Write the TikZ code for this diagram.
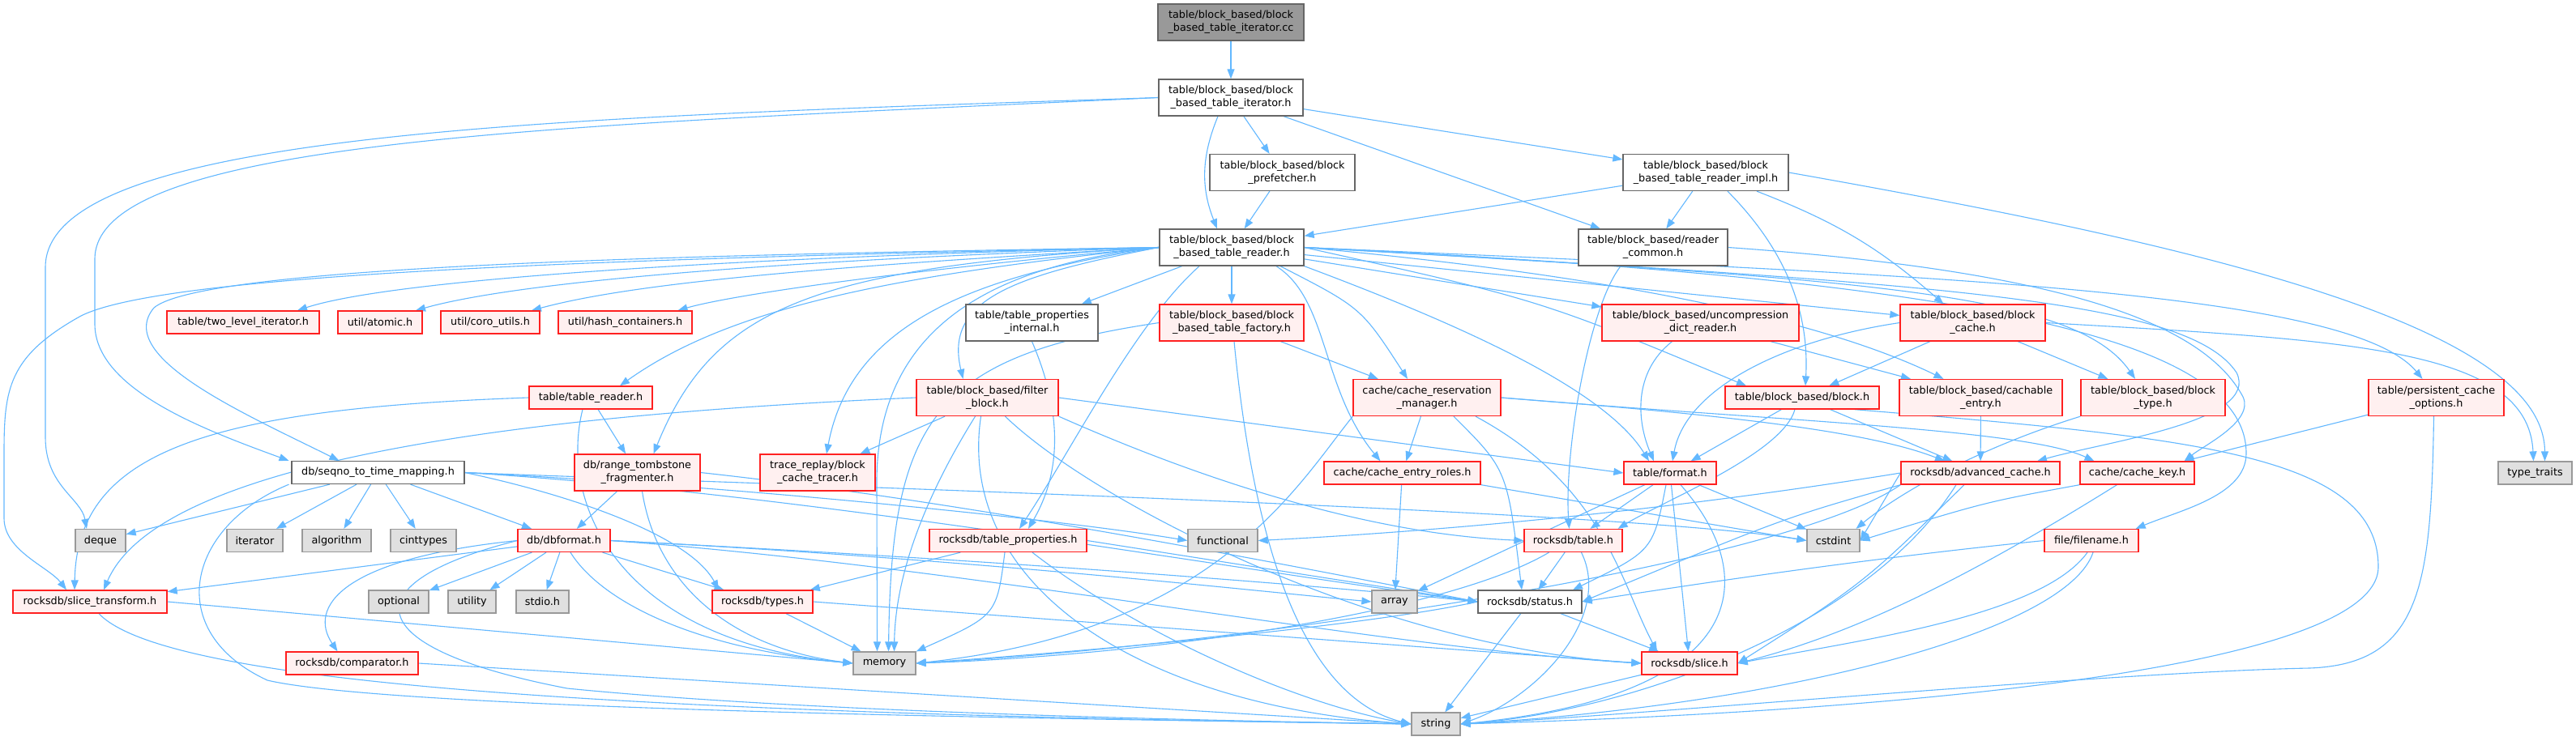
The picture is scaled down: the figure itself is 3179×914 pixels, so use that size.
\documentclass[tikz,border=0pt]{standalone}
\usepackage{fontspec}
\setmainfont{DejaVu Sans}
\usetikzlibrary{arrows.meta,backgrounds}
\definecolor{edgec}{HTML}{63B8FF}
\definecolor{redf}{HTML}{FFF0F0}
\definecolor{redb}{HTML}{FF2020}
\definecolor{grayb}{HTML}{999999}
\definecolor{grayf}{HTML}{E0E0E0}
\definecolor{wb}{HTML}{666666}
\definecolor{topf}{HTML}{999999}
\newcommand\mknode[7]{\node[#6, minimum width=#4pt, minimum height=#5pt] (#1) at (#2,#3) {#7};}
\tikzset{
  base/.style={draw, line width=1.3pt, align=center, inner sep=0pt, font=\fontsize{12.8}{16}\selectfont},
  rn/.style={base, draw=redb, fill=redf},
  wn/.style={base, draw=wb, fill=white},
  gn/.style={base, draw=grayb, fill=grayf},
  topn/.style={base, draw=wb, fill=topf},
  ed/.style={draw=edgec, line width=1.1pt, -{Triangle[length=12pt,width=9pt]}}
}
\begin{document}
\begin{tikzpicture}[x=1pt,y=-1pt]
\useasboundingbox (0,0) rectangle (3179,914);
\mknode{A}{1519}{27.5}{180}{45}{topn}{table/block\_based/block\\\_based\_table\_iterator.cc}
\mknode{B}{1519}{120.5}{178}{45}{wn}{table/block\_based/block\\\_based\_table\_iterator.h}
\mknode{C}{1582.5}{213}{179}{45}{wn}{table/block\_based/block\\\_prefetcher.h}
\mknode{D}{2105}{213}{204}{45}{wn}{table/block\_based/block\\\_based\_table\_reader\_impl.h}
\mknode{E}{1520}{305.5}{178}{45}{wn}{table/block\_based/block\\\_based\_table\_reader.h}
\mknode{F}{2040}{305.5}{184}{45}{wn}{table/block\_based/reader\\\_common.h}
\mknode{G}{300}{398}{188}{28}{rn}{table/two\_level\_iterator.h}
\mknode{H}{469}{398}{104}{28}{rn}{util/atomic.h}
\mknode{I}{605}{398}{122}{28}{rn}{util/coro\_utils.h}
\mknode{J}{771.5}{398}{165}{28}{rn}{util/hash\_containers.h}
\mknode{L}{1273.5}{398.5}{163}{45}{wn}{table/table\_properties\\\_internal.h}
\mknode{M}{1520}{398.5}{178}{45}{rn}{table/block\_based/block\\\_based\_table\_factory.h}
\mknode{N}{2098.5}{398.5}{243}{45}{rn}{table/block\_based/uncompression\\\_dict\_reader.h}
\mknode{O}{2434.5}{398.5}{179}{45}{rn}{table/block\_based/block\\\_cache.h}
\mknode{K}{729}{491}{152}{28}{rn}{table/table\_reader.h}
\mknode{R}{1218.5}{491}{175}{45}{rn}{table/block\_based/filter\\\_block.h}
\mknode{S}{1761}{491}{182}{45}{rn}{cache/cache\_reservation\\\_manager.h}
\mknode{T}{2224}{491}{190}{28}{rn}{table/block\_based/block.h}
\mknode{U}{2444.5}{491}{201}{45}{rn}{table/block\_based/cachable\\\_entry.h}
\mknode{V}{2657}{491}{178}{45}{rn}{table/block\_based/block\\\_type.h}
\mknode{P}{3006.5}{491}{167}{45}{rn}{table/persistent\_cache\\\_options.h}
\mknode{W}{466.5}{583.5}{213}{28}{wn}{db/seqno\_to\_time\_mapping.h}
\mknode{X}{786.5}{583.5}{155}{45}{rn}{db/range\_tombstone\\\_fragmenter.h}
\mknode{Y}{1009}{583.5}{142}{45}{rn}{trace\_replay/block\\\_cache\_tracer.h}
\mknode{Z}{1730.5}{584}{193}{28}{rn}{cache/cache\_entry\_roles.h}
\mknode{fmt}{2061}{584}{114}{28}{rn}{table/format.h}
\mknode{adv}{2444}{584}{196}{28}{rn}{rocksdb/advanced\_cache.h}
\mknode{ckey}{2637.5}{584}{141}{28}{rn}{cache/cache\_key.h}
\mknode{Q}{3128.5}{584}{91}{28}{gn}{type\_traits}
\mknode{deque}{124}{667.5}{62}{28}{gn}{deque}
\mknode{iter}{314.5}{667.5}{69}{28}{gn}{iterator}
\mknode{algo}{415.5}{667.5}{85}{28}{gn}{algorithm}
\mknode{cint}{522.5}{667.5}{81}{28}{gn}{cinttypes}
\mknode{dbf}{696}{667.5}{114}{28}{rn}{db/dbformat.h}
\mknode{tprops}{1244}{667.5}{194}{28}{rn}{rocksdb/table\_properties.h}
\mknode{func}{1509}{667.5}{86}{28}{gn}{functional}
\mknode{rtable}{1941.5}{667.5}{121}{28}{rn}{rocksdb/table.h}
\mknode{cstdint}{2262.5}{667.5}{65}{28}{gn}{cstdint}
\mknode{fname}{2581}{667.5}{116}{28}{rn}{file/filename.h}
\mknode{slicet}{111}{743}{190}{28}{rn}{rocksdb/slice\_transform.h}
\mknode{opt}{492}{743}{74}{28}{gn}{optional}
\mknode{util}{582.5}{743}{59}{28}{gn}{utility}
\mknode{stdio}{669.5}{743}{65}{28}{gn}{stdio.h}
\mknode{types}{941}{743}{124}{28}{rn}{rocksdb/types.h}
\mknode{array}{1721}{743}{56}{28}{gn}{array}
\mknode{status}{1888}{743}{128}{28}{wn}{rocksdb/status.h}
\mknode{comp}{434.5}{819}{163}{28}{rn}{rocksdb/comparator.h}
\mknode{memory}{1091.5}{819}{77}{28}{gn}{memory}
\mknode{slice}{2085}{819}{118}{28}{rn}{rocksdb/slice.h}
\mknode{string}{1772}{894}{60}{28}{gn}{string}
\begin{pgfonlayer}{background}
\fill[white] (0,0) rectangle (3179,914);
% top part
\draw[ed] (A) -- (B);
\draw[ed] (B) -- (C);
\draw[ed] ([xshift=-16]B.south) to[bend right=22] ([xshift=-18]E.north);
\draw[ed] (C) -- (E);
\draw[ed] (B) -- (D);
\draw[ed] (B) -- (F);
\draw[ed] (B.west) .. controls (700,145) and (56,160) .. (56,330) -- (56,540) .. controls (56,600) and (100,615) .. ([xshift=-17]deque.north);
\draw[ed] (B.west) .. controls (700,155) and (117,170) .. (117,320) -- (117,400) .. controls (117,480) and (250,530) .. ([xshift=-110]W.north);
\draw[ed] (D) -- (E);
\draw[ed] (D) -- (F);
\draw[ed] ([xshift=27]D.south) .. controls (2215,320) and (2232,400) .. ([xshift=4]T.north);
\draw[ed] ([xshift=63]D.south) to[bend left=10] ([xshift=-36]O.north);
\draw[ed] (D.east) .. controls (2700,300) and (3140,400) .. ([xshift=12]Q.north);
% reader_common
\draw[ed] ([xshift=-40]F.south) .. controls (1960,380) and (1930,560) .. ([xshift=-5]rtable.north);
\draw[ed] (F.east) .. controls (2550,335) and (2720,400) .. (2768,490) .. controls (2782,520) and (2720,550) .. ([xshift=58]ckey.north);
% reader.h
\draw[ed] (E.west) .. controls (1000,315) and (500,340) .. ([xshift=67]G.north);
\draw[ed] (E.west) .. controls (1000,320) and (650,345) .. ([xshift=44]H.north);
\draw[ed] (E.west) .. controls (1000,330) and (780,350) .. ([xshift=51]I.north);
\draw[ed] (E.west) .. controls (1100,335) and (900,365) .. ([xshift=65]J.north);
\draw[ed] (E.west) .. controls (1100,340) and (900,380) .. ([xshift=36]K.north);
\draw[ed] (E) -- (L);
\draw[ed] (E) -- (M);
\draw[ed] (E) -- (N);
\draw[ed] (E) -- (O);
\draw[ed] (E.east) .. controls (2100,350) and (2300,420) .. ([xshift=-46]U.north);
\draw[ed] (E.east) .. controls (2300,345) and (2560,360) .. ([xshift=-22]V.north);
\draw[ed] (E.east) .. controls (2400,340) and (2900,360) .. ([xshift=-17]P.north);
\draw[ed] (E.east) .. controls (1900,370) .. ([xshift=-69]T.north);
\draw[ed] (E.east) .. controls (2400,350) and (2700,370) .. (2760,460) .. controls (2790,520) and (2600,545) .. ([xshift=70]adv.north);
\draw[ed] (E.east) .. controls (2450,345) and (2772,420) .. (2772,560) .. controls (2772,612) and (2690,630) .. ([xshift=-4]fname.north east);
\draw[ed] (E.west) .. controls (1250,340) and (1165,370) .. ([xshift=-30]R.north);
\draw[ed] ([xshift=60]E.south) .. controls (1680,380) .. ([xshift=-24]S.north);
\draw[ed] ([xshift=55]E.south) .. controls (1640,370) and (1630,480) .. ([xshift=-27]Z.north);
\draw[ed] (E.south east) .. controls (1800,400) and (1980,480) .. ([xshift=-26]fmt.north);
\draw[ed] (E.west) .. controls (800,315) and (250,330) .. (190,380) .. controls (140,440) and (300,510) .. ([xshift=-48]W.north);
\draw[ed] (E.west) .. controls (1000,330) and (880,380) .. ([xshift=20]X.north);
\draw[ed] (E.west) .. controls (1200,340) and (1050,400) .. ([xshift=11]Y.north);
\draw[ed] (E.west) .. controls (700,320) and (200,340) .. (100,390) .. controls (10,440) and (5,480) .. (5,560) -- (5,640) .. controls (5,680) and (60,700) .. ([xshift=-29]slicet.north);
\draw[ed] ([xshift=-40]E.south) .. controls (1400,400) and (1320,560) .. ([xshift=14]tprops.north);
\draw[ed] (E.west) .. controls (1200,330) and (1080,420) .. (1082,600) -- ([xshift=-9]memory.north);
% table_reader
\draw[ed] (K) -- (X);
\draw[ed] (K.west) .. controls (250,505) and (95,560) .. ([xshift=-19]slicet.north);
\draw[ed] ([xshift=-10]K.south) .. controls (690,620) and (760,790) .. (memory.west);
% tpi
\draw[ed] (L.south) .. controls (1320,530) and (1300,600) .. ([xshift=25]tprops.north);
% factory
\draw[ed] (M) -- (S);
\draw[ed] (M.west) .. controls (1150,440) and (1100,520) .. ([xshift=5]memory.north);
\draw[ed] ([xshift=3]M.south) .. controls (1545,650) and (1600,860) .. (string.west);
% filter
\draw[ed] (R) -- (Y);
\draw[ed] (R.west) .. controls (700,510) and (200,560) .. ([xshift=17]slicet.north);
\draw[ed] (R.east) -- (fmt.west);
\draw[ed] (R.south east) .. controls (1500,600) and (1700,660) .. (rtable.west);
\draw[ed] ([xshift=22]R.south) .. controls (1350,620) and (1700,800) .. (slice.west);
\draw[ed] ([xshift=-15]R.south) .. controls (1150,600) and (1105,700) .. ([xshift=12]memory.north);
\draw[ed] ([xshift=-8]R.south) .. controls (1180,720) and (1400,870) .. (string.west);
% crm
\draw[ed] (S) -- (Z);
\draw[ed] (S.south west) .. controls (1600,600) and (1500,780) .. (memory.east);
\draw[ed] ([xshift=33]S.south) .. controls (1860,580) .. ([xshift=-10]status.north);
\draw[ed] ([xshift=60]S.south) .. controls (1980,600) and (2000,720) .. ([xshift=-40]slice.north);
\draw[ed] (S.east) .. controls (2200,520) and (2500,530) .. ([xshift=-53]ckey.north);
\draw[ed] (S.east) .. controls (2100,510) and (2300,530) .. ([xshift=-44]adv.north);
% uncompression
\draw[ed] ([xshift=-35]N.south) .. controls (2015,460) and (2020,520) .. ([xshift=-20]fmt.north);
\draw[ed] (N) -- (U);
% block cache
\draw[ed] (O) -- (T);
\draw[ed] (O.west) .. controls (2200,420) and (2080,480) .. ([xshift=3]fmt.north);
\draw[ed] (O) -- (V);
\draw[ed] (O.east) .. controls (2900,420) and (3120,430) .. ([xshift=-2]Q.north);
% block
\draw[ed] (T) -- (fmt);
\draw[ed] ([xshift=-9]T.south) .. controls (2200,560) and (2050,620) .. ([xshift=-6]rtable.north east);
\draw[ed] (T) -- (adv);
\draw[ed] ([xshift=65]T.south) .. controls (2700,540) and (2935,560) .. (2935,700) .. controls (2935,830) and (2300,880) .. (string.east);
% cachable, block_type, persistent
\draw[ed] (U) -- (adv);
\draw[ed] (V.south west) .. controls (2420,560) and (2330,620) .. ([xshift=28]cstdint.north);
\draw[ed] (P) -- (ckey);
\draw[ed] ([xshift=-3]P.south) .. controls (3000,720) and (2990,820) .. (2850,825) .. controls (2600,830) and (2000,885) .. (string.east);
% seqno
\draw[ed] (W) -- (deque);
\draw[ed] (W) -- (iter);
\draw[ed] (W) -- (algo);
\draw[ed] (W) -- (cint);
\draw[ed] (W) -- (dbf);
\draw[ed] ([xshift=-110]W.south) .. controls (230,650) and (200,780) .. (330,840) .. controls (500,880) and (1500,890) .. (string.west);
\draw[ed] (W.east) .. controls (900,600) and (1300,640) .. (func.west);
\draw[ed] (W.east) .. controls (700,610) and (850,660) .. ([xshift=-54]types.north);
\draw[ed] (W.east) .. controls (1000,600) and (2000,630) .. (cstdint.west);
\draw[ed] (W.east) .. controls (1000,610) and (1500,700) .. (status.west);
% range tombstone
\draw[ed] (X) -- (dbf);
\draw[ed] ([xshift=6]X.south) .. controls (810,720) and (900,800) .. (memory.west);
\draw[ed] (X.east) .. controls (1200,620) and (1600,700) .. (status.west);
% dbformat
\draw[ed] (dbf) -- (slicet);
\draw[ed] (dbf.west) .. controls (420,690) and (380,750) .. ([xshift=-18]comp.north);
\draw[ed] (dbf) -- (opt);
\draw[ed] (dbf) -- (util);
\draw[ed] (dbf) -- (stdio);
\draw[ed] (dbf) -- (types);
\draw[ed] ([xshift=8]dbf.south) .. controls (740,740) and (850,800) .. (memory.west);
\draw[ed] (dbf.west) .. controls (430,720) and (440,800) .. (700,850) .. controls (1000,880) and (1500,890) .. (string.west);
\draw[ed] (dbf.east) .. controls (1200,700) and (1700,800) .. (slice.west);
\draw[ed] (dbf.east) .. controls (1200,690) and (1600,720) .. (status.west);
\draw[ed] (dbf.east) .. controls (1200,690) and (1550,730) .. (array.west);
% table_properties
\draw[ed] (tprops) -- (types);
\draw[ed] ([xshift=-4]tprops.south) .. controls (1230,760) .. (memory.north east);
\draw[ed] (tprops.east) -- (status.west);
\draw[ed] ([xshift=30]tprops.south) .. controls (1400,780) and (1600,870) .. (string.west);
% roles, format
\draw[ed] (Z) -- (array);
\draw[ed] (Z.south east) -- (cstdint.west);
\draw[ed] (fmt) -- (array);
\draw[ed] (fmt) -- (rtable);
\draw[ed] ([xshift=-5]fmt.south) .. controls (2040,680) .. ([xshift=53]status.north);
\draw[ed] (fmt) -- (slice);
\draw[ed] ([xshift=13]fmt.south) .. controls (2180,720) and (2150,860) .. (string.east);
\draw[ed] (fmt) -- (cstdint);
% advanced cache
\draw[ed] (adv.south west) .. controls (2200,700) and (1500,800) .. (memory.east);
\draw[ed] ([xshift=-30]adv.south) .. controls (2300,780) and (2000,880) .. (string.east);
\draw[ed] (adv.south west) .. controls (2200,640) .. (status.east);
\draw[ed] ([xshift=-20]adv.south) .. controls (2300,720) .. (slice.east);
\draw[ed] (adv.west) .. controls (2000,640) and (1700,660) .. (func.east);
\draw[ed] (adv.west) -- (cstdint.east);
% cache key
\draw[ed] ([xshift=-25]ckey.south) .. controls (2450,700) and (2300,780) .. (slice.east);
\draw[ed] (ckey.south west) .. controls (2450,620) .. (cstdint.east);
% filename
\draw[ed] (fname.west) .. controls (2300,690) and (2100,720) .. (status.east);
\draw[ed] ([xshift=-5]fname.south) .. controls (2520,760) and (2300,790) .. (slice.east);
\draw[ed] ([xshift=2]fname.south) .. controls (2550,780) and (2200,870) .. (string.east);
% rocksdb/table
\draw[ed] ([xshift=-30]rtable.south) .. controls (1780,760) and (1400,810) .. (memory.east);
\draw[ed] (rtable) -- (status);
\draw[ed] ([xshift=10]rtable.south) .. controls (1990,760) and (1900,860) .. (string.east);
% types, status, slice_transform, comparator, slice
\draw[ed] (types) -- (memory);
\draw[ed] (types.east) -- (slice.west);
\draw[ed] (status) -- (slice);
\draw[ed] (status) -- (string);
\draw[ed] (status.west) .. controls (1700,770) and (1400,800) .. (memory.east);
\draw[ed] (slicet.east) -- (memory.west);
\draw[ed] ([xshift=11]slicet.south) .. controls (200,840) and (700,880) .. (string.west);
\draw[ed] (comp.east) -- (string.west);
\draw[ed] (slice) -- (string);
\end{pgfonlayer}
\end{tikzpicture}
\end{document}
